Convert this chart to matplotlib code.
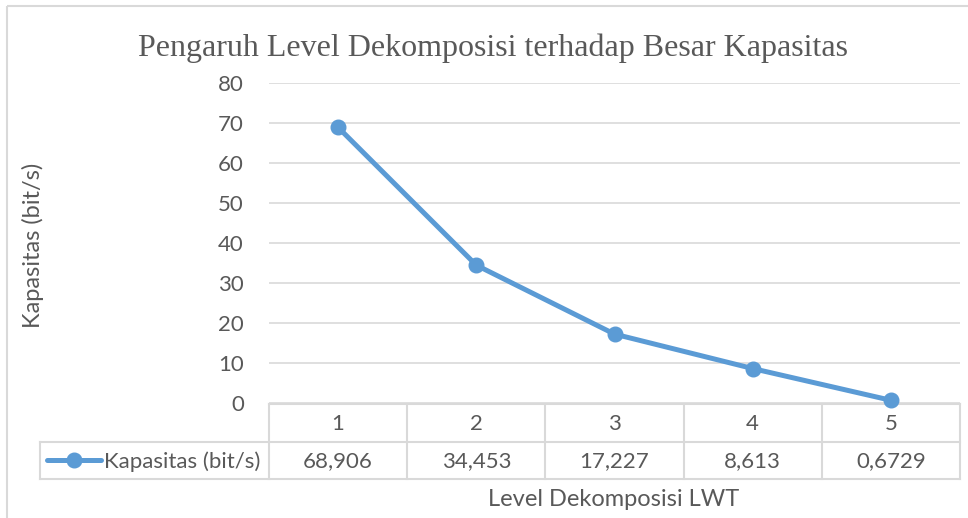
import matplotlib.pyplot as plt
from matplotlib.patches import Rectangle

levels = [1, 2, 3, 4, 5]
kapasitas = [68.906, 34.453, 17.227, 8.613, 0.6729]
kapasitas_label = ["68,906", "34,453", "17,227", "8,613", "0,6729"]
series_name = "Kapasitas (bit/s)"

W, H = 968, 518
blue = "#5B9BD5"
grey_text = "#595959"
grid_col = "#D9D9D9"
sans = ["Lato", "DejaVu Sans"]
fs = 16

fig = plt.figure(figsize=(W / 100, H / 100), dpi=100)

# plot area (pixel positions from the reference)
px_l, px_r, px_t, px_b = 269, 960, 83, 403
ax = fig.add_axes([px_l / W, 1 - px_b / H, (px_r - px_l) / W, (px_b - px_t) / H])
ax.plot(levels, kapasitas, color=blue, lw=3.6, marker="o", ms=10.5,
        solid_capstyle="round", clip_on=False, zorder=3)
ax.set_xlim(0.5, 5.5)
ax.set_ylim(0, 80)
ax.set_yticks(range(0, 81, 10))
ax.set_xticks([])
ax.grid(axis="y", color=grid_col, lw=1.2)
ax.set_axisbelow(True)
for s in ax.spines.values():
    s.set_visible(False)
ax.tick_params(axis="y", length=0, pad=18, labelsize=fs, labelcolor=grey_text)
for t in ax.get_yticklabels():
    t.set_fontfamily(sans)

# overlay in pixel coordinates for border, data table and titles
ov = fig.add_axes([0, 0, 1, 1], zorder=-1)
ov.set_xlim(0, W)
ov.set_ylim(H, 0)
ov.axis("off")

ov.add_patch(Rectangle((7, 6), W + 20, H, fill=False, ec=grid_col, lw=1.5))

col_w = (px_r - px_l) / len(levels)
t_top, t_mid, t_bot, leg_l = 404, 441.5, 479, 40
lc = dict(color=grid_col, lw=1.5)
ov.plot([px_l, px_r], [t_top, t_top], **lc)
ov.plot([leg_l, px_r], [t_mid, t_mid], **lc)
ov.plot([leg_l, px_r], [t_bot, t_bot], **lc)
ov.plot([leg_l, leg_l], [t_mid, t_bot], **lc)
for i in range(len(levels) + 1):
    x = px_l + i * col_w
    ov.plot([x, x], [t_top, t_bot], **lc)

for i, (lv, lab) in enumerate(zip(levels, kapasitas_label)):
    cx = px_l + (i + 0.5) * col_w
    ov.text(cx, (t_top + t_mid) / 2 + 1, str(lv), ha="center", va="center",
            fontsize=fs, color=grey_text, family=sans)
    ov.text(cx, (t_mid + t_bot) / 2 + 1, lab, ha="center", va="center",
            fontsize=fs, color=grey_text, family=sans)

# legend key inside the table
ym = (t_mid + t_bot) / 2
ov.plot([47, 101], [ym, ym], color=blue, lw=3.6, solid_capstyle="round")
ov.plot([74], [ym], "o", color=blue, ms=10.5)
ov.text(104, ym + 1, series_name, ha="left", va="center",
        fontsize=fs, color=grey_text, family=sans)

ov.text(493, 48, "Pengaruh Level Dekomposisi terhadap Besar Kapasitas",
        ha="center", va="center", fontsize=23, color=grey_text,
        family=["Liberation Serif", "DejaVu Serif"])
ov.text(33, 245, "Kapasitas (bit/s)", rotation=90, ha="center", va="center",
        fontsize=17, color=grey_text, family=sans)
ov.text(614, 500, "Level Dekomposisi LWT", ha="center", va="center",
        fontsize=17, color=grey_text, family=sans)

fig.savefig("out.png", dpi=100)
